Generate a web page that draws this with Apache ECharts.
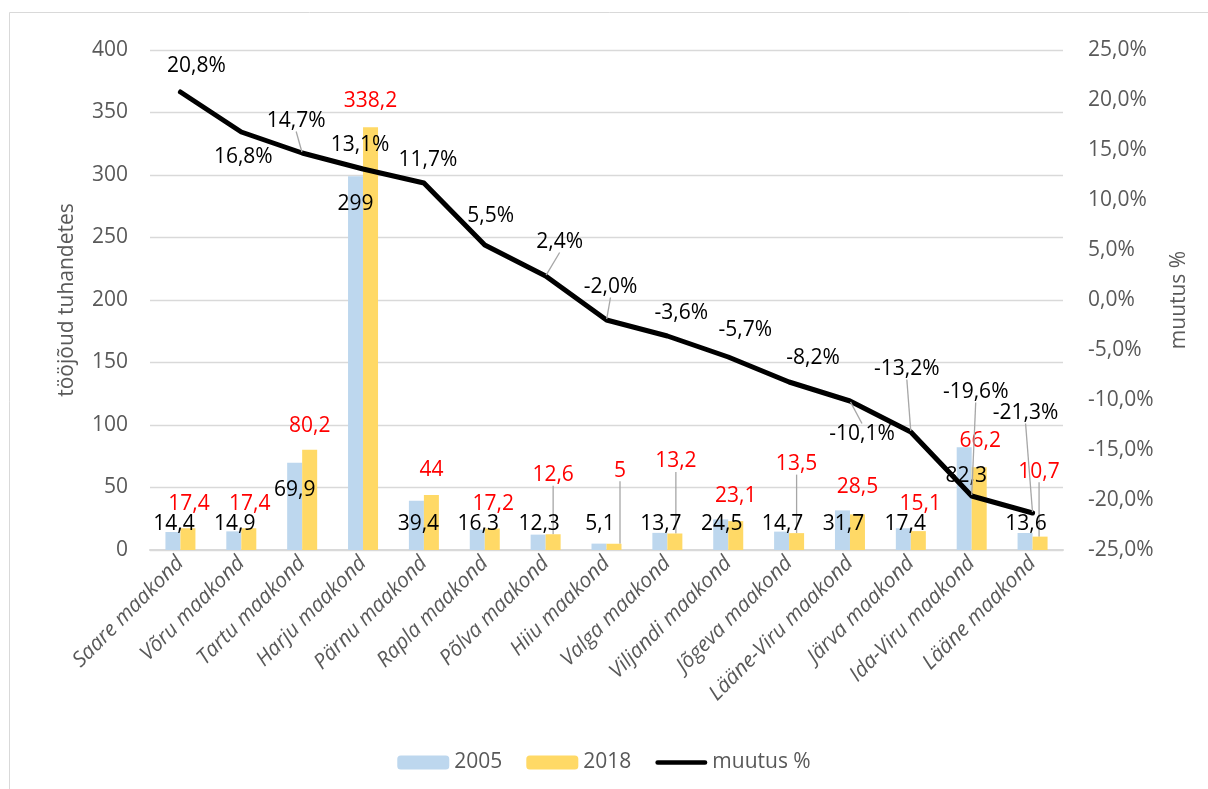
<!DOCTYPE html>
<html>
<head>
<meta charset="utf-8">
<script src="https://cdn.jsdelivr.net/npm/echarts@6/dist/echarts.min.js"></script>
<style>
  html, body { margin: 0; padding: 0; background: #fff; }
  #container { width: 1208px; height: 789px; }
</style>
</head>
<body>
<div id="container"></div>
<script>
// maakonnad ja andmed
var categories = ['Saare maakond', 'Võru maakond', 'Tartu maakond', 'Harju maakond', 'Pärnu maakond',
  'Rapla maakond', 'Põlva maakond', 'Hiiu maakond', 'Valga maakond', 'Viljandi maakond',
  'Jõgeva maakond', 'Lääne-Viru maakond', 'Järva maakond', 'Ida-Viru maakond', 'Lääne maakond'];
var values2005 = [14.4, 14.9, 69.9, 299, 39.4, 16.3, 12.3, 5.1, 13.7, 24.5, 14.7, 31.7, 17.4, 82.3, 13.6];
var values2018 = [17.4, 17.4, 80.2, 338.2, 44, 17.2, 12.6, 5, 13.2, 23.1, 13.5, 28.5, 15.1, 66.2, 10.7];
var changePct = [20.8, 16.8, 14.7, 13.1, 11.7, 5.5, 2.4, -2.0, -3.6, -5.7, -8.2, -10.1, -13.2, -19.6, -21.3];

// label placement (pixel shift from bar top / line point), style only
var shift2005 = [[1,-8],[1,-7],[0,27],[0,28],[2,23],[1,-6],[1,-11],[1,-20],[1,-9],[1,5],[1,-8],[1,14],[2,-4],[2,29],[1,-9]];
var shift2018 = [[1,-24],[1,-24],[0,-24],[0,-26],[0,-25],[1,-24],[0,-59],[6,-73],[1,-72],[0,-25],[0,-69],[0,-27],[2,-27],[1,-26],[-1,-65]];
var shiftPct = [[16,-26],[2,25],[-6,-32],[-3,-24],[4,-23],[6,-29],[14,-34],[4,-33],[14,-23],[17,-27],[24,-24],[12,33],[-4,-63],[4,-104],[-7,-100]];
var leader2018 = [6, 7, 8, 10, 14];
var leaderPct = [2, 6, 7, 11, 12, 13, 14];

var FONT = 'Open Sans';
var GREY = '#595959';

var dom = document.getElementById('container');
var myChart = echarts.init(dom);

var fmtNum = function (v) { return String(v).replace('.', ','); };
var fmtPct = function (v) { return v.toFixed(1).replace('.', ',') + '%'; };

var withLeaders = function (vals, idx) {
  return vals.map(function (v, i) {
    if (idx.indexOf(i) >= 0) {
      return { value: v, labelLine: { show: true, lineStyle: { color: '#a6a6a6', width: 1.3 } } };
    }
    return v;
  });
};

var barLayout = function (shifts) {
  return function (p) {
    var s = shifts[p.dataIndex];
    return {
      x: p.rect.x + p.rect.width / 2 + s[0],
      y: p.rect.y + s[1],
      align: 'center',
      verticalAlign: 'middle'
    };
  };
};

var option = {
  backgroundColor: '#fff',
  textStyle: { fontFamily: FONT },
  animation: false,
  graphic: [{
    type: 'rect',
    silent: true,
    shape: { x: 9.5, y: 12.5, width: 1400, height: 900 },
    style: { fill: 'none', stroke: '#d9d9d9', lineWidth: 1 }
  }],
  grid: { left: 150, right: 145, top: 50, bottom: 239 },
  legend: {
    bottom: 11,
    left: 'center',
    itemWidth: 52,
    itemHeight: 14,
    itemGap: 24,
    textStyle: { color: GREY, fontSize: 21, fontFamily: FONT },
    data: [
      { name: '2005' },
      { name: '2018' },
      { name: 'muutus %', icon: 'path://M2.5,0 H53.5 A2.5,2.5 0 0 1 53.5,5 H2.5 A2.5,2.5 0 0 1 2.5,0 Z' }
    ]
  },
  xAxis: {
    type: 'category',
    data: categories,
    axisTick: { show: false },
    axisLine: { lineStyle: { color: '#d9d9d9', width: 2 } },
    axisLabel: {
      interval: 0,
      rotate: 45,
      margin: 10,
      color: GREY,
      fontSize: 21,
      fontStyle: 'italic',
      fontFamily: FONT
    }
  },
  yAxis: [{
    type: 'value',
    min: 0,
    max: 400,
    interval: 50,
    name: 'tööjõud tuhandetes',
    nameLocation: 'middle',
    nameGap: 72,
    nameTextStyle: { color: GREY, fontSize: 21, fontFamily: FONT },
    axisLine: { show: false },
    axisTick: { show: false },
    splitLine: { lineStyle: { color: '#d9d9d9', width: 1.3 } },
    axisLabel: { color: GREY, fontSize: 21, margin: 22, fontFamily: FONT }
  }, {
    type: 'value',
    min: -25,
    max: 25,
    interval: 5,
    name: 'muutus %',
    nameLocation: 'middle',
    nameGap: 106,
    nameTextStyle: { color: GREY, fontSize: 21, fontFamily: FONT },
    axisLine: { show: false },
    axisTick: { show: false },
    splitLine: { show: false },
    axisLabel: { color: GREY, fontSize: 21, margin: 25, fontFamily: FONT, formatter: fmtPct }
  }],
  series: [{
    name: '2005',
    type: 'bar',
    barWidth: 15,
    barGap: '0%',
    itemStyle: { color: '#BDD7EE' },
    label: {
      show: true,
      position: 'top',
      color: '#000',
      fontSize: 21,
      fontFamily: FONT,
      formatter: function (p) { return fmtNum(p.value); }
    },
    labelLayout: barLayout(shift2005),
    data: values2005
  }, {
    name: '2018',
    type: 'bar',
    barWidth: 15,
    barGap: '0%',
    itemStyle: { color: '#FFD966' },
    label: {
      show: true,
      position: 'top',
      color: '#ff0000',
      fontSize: 21,
      fontFamily: FONT,
      formatter: function (p) { return fmtNum(p.value); }
    },
    labelLayout: barLayout(shift2018),
    data: withLeaders(values2018, leader2018)
  }, {
    name: 'muutus %',
    type: 'line',
    yAxisIndex: 1,
    z: 5,
    symbol: 'circle',
    symbolSize: 2,
    itemStyle: { color: '#000' },
    lineStyle: { color: '#000', width: 5, join: 'round', cap: 'round' },
    label: {
      show: true,
      position: 'inside',
      color: '#000',
      fontSize: 21,
      fontFamily: FONT,
      formatter: function (p) { return fmtPct(p.value); }
    },
    labelLayout: function (p) {
      var s = shiftPct[p.dataIndex];
      return {
        x: p.rect.x + p.rect.width / 2 + s[0],
        y: p.rect.y + p.rect.height / 2 + s[1],
        align: 'center',
        verticalAlign: 'middle'
      };
    },
    data: withLeaders(changePct, leaderPct)
  }]
};

myChart.setOption(option);
window.onresize = myChart.resize;
</script>
</body>
</html>
